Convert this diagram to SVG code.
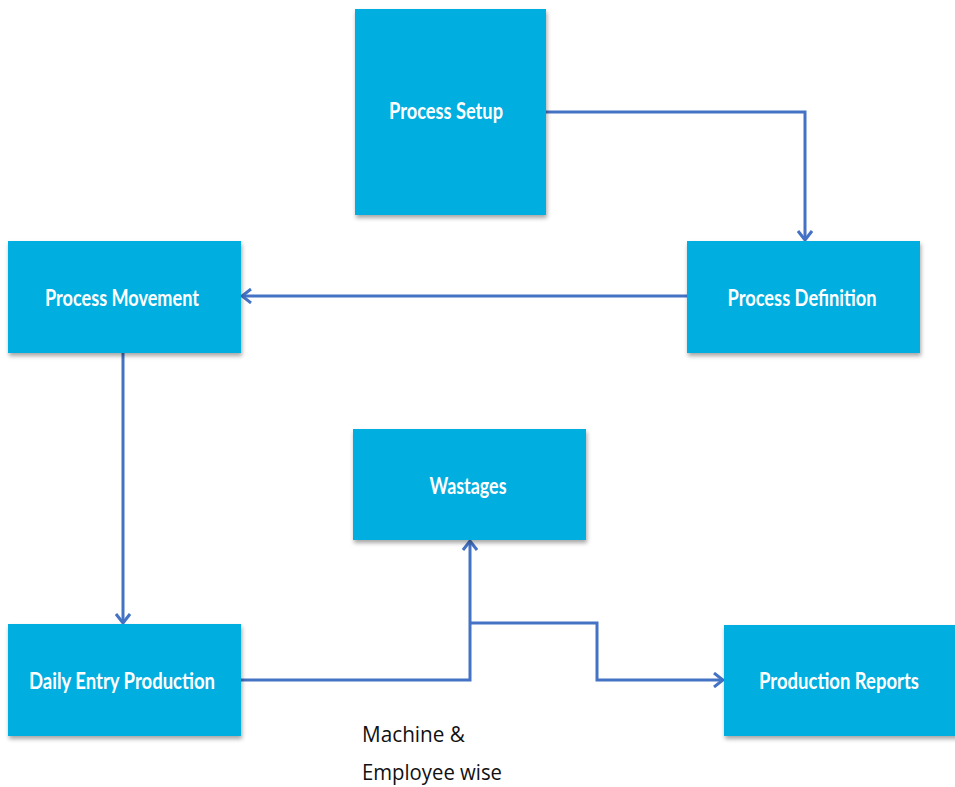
<svg xmlns="http://www.w3.org/2000/svg" width="955" height="787" viewBox="0 0 955 787">
<style>
.box{fill:#00AEDF;filter:url(#sh)}
.lbl{font-family:Lato,"Open Sans",sans-serif;font-weight:bold;font-size:22.5px;fill:#fff;text-anchor:middle}
.note{font-family:"Open Sans","Noto Sans",sans-serif;font-size:22.5px;fill:#111}
.con{fill:none;stroke:#4472C4;stroke-width:3}
</style>
<defs>
<filter id="sh" x="-10%" y="-10%" width="130%" height="130%">
<feDropShadow dx="1" dy="3" stdDeviation="2" flood-color="#000" flood-opacity="0.35"/>
</filter>
<marker id="ah" markerUnits="userSpaceOnUse" markerWidth="16" markerHeight="16" viewBox="0 0 16 16" refX="14" refY="8" orient="auto">
<path d="M5,1 L14,8 L5,15" fill="none" stroke="#4472C4" stroke-width="3"/>
</marker>
</defs>
<rect width="955" height="787" fill="#fff"/>
<g id="connectors">
<path class="con" d="M546,112 H805 V240" marker-end="url(#ah)"/>
<path class="con" d="M687,296 H242" marker-end="url(#ah)"/>
<path class="con" d="M123,353 V623" marker-end="url(#ah)"/>
<path class="con" d="M241,680 H470 V541" marker-end="url(#ah)"/>
<path class="con" d="M470,623 H597 V680 H723" marker-end="url(#ah)"/>
</g>
<g id="process-setup">
<rect class="box" x="355" y="9" width="191" height="206"/>
<text class="lbl" x="446" y="119" textLength="114" lengthAdjust="spacingAndGlyphs">Process Setup</text>
</g>
<g id="process-movement">
<rect class="box" x="8" y="241" width="233" height="112"/>
<text class="lbl" x="122" y="306" textLength="154" lengthAdjust="spacingAndGlyphs">Process Movement</text>
</g>
<g id="process-definition">
<rect class="box" x="687" y="241" width="233" height="112"/>
<text class="lbl" x="802" y="306" textLength="149" lengthAdjust="spacingAndGlyphs">Process Definition</text>
</g>
<g id="wastages">
<rect class="box" x="353" y="429" width="233" height="111"/>
<text class="lbl" x="468" y="494" textLength="77" lengthAdjust="spacingAndGlyphs">Wastages</text>
</g>
<g id="daily-entry-production">
<rect class="box" x="8" y="624" width="233" height="112"/>
<text class="lbl" x="122" y="689" textLength="186" lengthAdjust="spacingAndGlyphs">Daily Entry Production</text>
</g>
<g id="production-reports">
<rect class="box" x="724" y="625" width="234" height="111"/>
<text class="lbl" x="839" y="689" textLength="160" lengthAdjust="spacingAndGlyphs">Production Reports</text>
</g>
<g id="note">
<text class="note" x="362" y="742" textLength="103" lengthAdjust="spacingAndGlyphs">Machine &amp;</text>
<text class="note" x="362" y="780" textLength="140" lengthAdjust="spacingAndGlyphs">Employee wise</text>
</g>
</svg>
